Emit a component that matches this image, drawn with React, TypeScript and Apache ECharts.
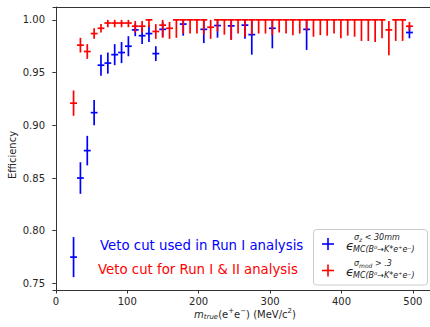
import React, { useEffect, useRef } from "react";
import * as echarts from "echarts";

// Bin centres of m_true(e+e-) in MeV/c^2
const massBins = [
  24.8, 34.4, 44.0, 53.6, 63.2, 72.8, 82.4, 92.0, 101.6, 111.2,
  120.8, 130.4, 140.0, 149.6, 159.2, 168.8, 178.4, 188.0, 197.6, 207.2,
  216.8, 226.4, 236.0, 245.6, 255.2, 264.8, 274.4, 284.0, 293.6, 303.2,
  312.8, 322.4, 332.0, 341.6, 351.2, 360.8, 370.4, 380.0, 389.6, 399.2,
  408.8, 418.4, 428.0, 437.6, 447.2, 456.8, 466.4, 476.0, 485.6, 495.2,
];

// Run I & II veto cut (red)
const runIIEff = [
  0.921, 0.976, 0.970, 0.987, 0.992, 0.997, 0.997, 0.997, 0.997, 0.994,
  0.994, 1.0, 0.989, 0.995, 0.992, 1.0, 1.0, 1.0, 1.0, 1.0,
  0.993, 1.0, 1.0, 1.0, 1.0, 1.0, 1.0, 1.0, 1.0, 1.0,
  1.0, 1.0, 1.0, 1.0, 1.0, 1.0, 1.0, 1.0, 1.0, 1.0,
  1.0, 1.0, 1.0, 1.0, 1.0, 1.0, 0.9905, 1.0, 1.0, 0.994,
];
const runIIErrLo = [
  0.012, 0.007, 0.007, 0.005, 0.004, 0.004, 0.004, 0.004, 0.004, 0.006,
  0.006, 0.007, 0.007, 0.012, 0.010, 0.017, 0.013, 0.013, 0.013, 0.014,
  0.011, 0.011, 0.014, 0.019, 0.013, 0.016, 0.014, 0.013, 0.013, 0.0145,
  0.012, 0.013, 0.0145, 0.013, 0.010, 0.016, 0.0145, 0.015, 0.013, 0.0174,
  0.015, 0.016, 0.020, 0.020, 0.021, 0.0175, 0.024, 0.020, 0.020, 0.004,
];
const runIIErrHi = [
  0.012, 0.007, 0.007, 0.005, 0.004, 0.003, 0.003, 0.003, 0.003, 0.005,
  0.005, 0.0, 0.007, 0.005, 0.006, 0.0, 0.0, 0.0, 0.0, 0.0,
  0.007, 0.0, 0.0, 0.0, 0.0, 0.0, 0.0, 0.0, 0.0, 0.0,
  0.0, 0.0, 0.0, 0.0, 0.0, 0.0, 0.0, 0.0, 0.0, 0.0,
  0.0, 0.0, 0.0, 0.0, 0.0, 0.0, 0.0085, 0.0, 0.0, 0.004,
];

// Run I veto cut (blue)
const runIMass = [
  24.8, 34.4, 44.0, 53.6, 63.2, 72.8, 82.4, 92.0, 101.6, 111.2,
  120.8, 130.4, 140.0, 149.6, 178.4, 207.2, 226.4, 245.6, 264.8, 274.4,
  303.2, 351.2, 495.2,
];
const runIEff = [
  0.775, 0.850, 0.876, 0.912, 0.957, 0.959, 0.967, 0.969, 0.975, 0.9905,
  0.985, 0.987, 0.968, 0.991, 0.996, 0.991, 0.9946, 0.9943, 0.995, 0.986,
  0.992, 0.991, 0.988,
];
const runIErrLo = [
  0.019, 0.015, 0.014, 0.012, 0.010, 0.010, 0.010, 0.010, 0.0095, 0.006,
  0.008, 0.008, 0.007, 0.007, 0.011, 0.013, 0.0115, 0.013, 0.013, 0.019,
  0.019, 0.0195, 0.0055,
];
const runIErrHi = [
  0.019, 0.015, 0.014, 0.012, 0.010, 0.010, 0.010, 0.010, 0.0095, 0.006,
  0.008, 0.008, 0.007, 0.007, 0.004, 0.009, 0.0054, 0.0057, 0.005, 0.014,
  0.008, 0.009, 0.0055,
];

const binHalfWidth = 4.8;
const xTicks = [0, 100, 200, 300, 400, 500];
const yTicks = [0.75, 0.8, 0.85, 0.9, 0.95, 1.0];

const FONT = "DejaVu Sans";

function errorBarSeries(name: string, color: string, data: number[][]) {
  return {
    type: "custom",
    name,
    data,
    encode: { x: 0, y: 1 },
    clip: false,
    silent: true,
    renderItem: (_params: any, api: any) => {
      const x = api.value(0);
      const y = api.value(1);
      const lo = api.value(2);
      const hi = api.value(3);
      const l = api.coord([x - binHalfWidth, y]);
      const r = api.coord([x + binHalfWidth, y]);
      const t = api.coord([x, y + hi]);
      const b = api.coord([x, y - lo]);
      const style = { stroke: color, lineWidth: 1.7, fill: null };
      return {
        type: "group",
        children: [
          { type: "line", shape: { x1: l[0], y1: l[1], x2: r[0], y2: r[1] }, style },
          { type: "line", shape: { x1: t[0], y1: t[1], x2: b[0], y2: b[1] }, style },
        ],
      };
    },
  };
}

export default function App() {
  const ref = useRef<HTMLDivElement>(null);
  useEffect(() => {
    if (!ref.current) return;
    const chart = echarts.init(ref.current, null, { renderer: "svg" });
    const redData = massBins.map((m, i) => [m, runIIEff[i], runIIErrLo[i], runIIErrHi[i]]);
    const blueData = runIMass.map((m, i) => [m, runIEff[i], runIErrLo[i], runIErrHi[i]]);
    const legendSup = {
      g: { fontFamily: FONT, fontStyle: "italic", fontSize: 8, fill: "#222" },
      z: { fontFamily: FONT, fontStyle: "italic", fontSize: 6, fill: "#222", padding: [4, 0, 0, 0] },
      t: { fontFamily: FONT, fontStyle: "italic", fontSize: 8, fill: "#222" },
    };
    chart.setOption({
      animation: false,
      backgroundColor: "#ffffff",
      grid: {
        left: 53,
        top: 7,
        width: 381,
        bottom: 37,
        show: false,
      },
      xAxis: [
        {
          type: "value",
          min: -4,
          max: 524,
          splitLine: { show: false },
          axisLine: { show: true, lineStyle: { color: "#333", width: 1 } },
          axisTick: { show: true, inside: false, length: 3.5, lineStyle: { color: "#333" }, customValues: xTicks },
          axisLabel: {
            customValues: xTicks,
            margin: 6,
            fontFamily: FONT,
            fontSize: 10,
            color: "#262626",
          },
        },
        {
          type: "value",
          position: "top",
          min: -4,
          max: 524,
          splitLine: { show: false },
          axisLine: { show: true, onZero: false, lineStyle: { color: "#333", width: 1 } },
          axisTick: { show: false },
          axisLabel: { show: false },
        },
      ],
      yAxis: {
        type: "value",
        min: 0.7438,
        max: 1.0122,
        splitLine: { show: false },
        axisLine: { show: true, lineStyle: { color: "#333", width: 1 } },
        axisTick: { show: true, inside: false, length: 3.5, lineStyle: { color: "#333" }, customValues: yTicks },
        axisLabel: {
          customValues: yTicks,
          margin: 8,
          fontFamily: FONT,
          fontSize: 10,
          color: "#262626",
          formatter: (v: number) => v.toFixed(2),
        },
      },
      series: [
        errorBarSeries("Run I", "#0000ff", blueData),
        errorBarSeries("Run I & II", "#ff0000", redData),
      ],
      graphic: [
        {
          type: "text",
          x: 12,
          y: 155,
          rotation: Math.PI / 2,
          style: {
            text: "Efficiency",
            fontFamily: FONT,
            fontSize: 10,
            fill: "#262626",
            align: "center",
            verticalAlign: "middle",
          },
        },
        {
          type: "text",
          x: 245,
          y: 314,
          style: {
            text: "{m|m}{s|true}{n|(e}{p|+}{n|e}{p|−}{n|) (MeV/c}{p|2}{n|)}",
            align: "center",
            verticalAlign: "middle",
            rich: {
              m: { fontFamily: FONT, fontStyle: "italic", fontSize: 10, fill: "#262626" },
              n: { fontFamily: FONT, fontSize: 10, fill: "#262626" },
              s: { fontFamily: FONT, fontStyle: "italic", fontSize: 7, fill: "#262626", padding: [6, 0, 0, 0] },
              p: { fontFamily: FONT, fontSize: 7, fill: "#262626", padding: [0, 0, 6, 0] },
            },
          },
        },
        {
          type: "text",
          x: 100,
          y: 245,
          style: {
            text: "Veto cut used in Run I analysis",
            fontFamily: FONT,
            fontSize: 13.3,
            fill: "#0000ff",
            verticalAlign: "middle",
          },
        },
        {
          type: "text",
          x: 98,
          y: 269,
          style: {
            text: "Veto cut for Run I & II analysis",
            fontFamily: FONT,
            fontSize: 13.3,
            fill: "#ff0000",
            verticalAlign: "middle",
          },
        },
        {
          type: "rect",
          shape: { x: 313.5, y: 229.5, width: 114, height: 55.5, r: 3 },
          style: { fill: "rgba(255,255,255,0.8)", stroke: "#cccccc", lineWidth: 1 },
        },
        { type: "line", shape: { x1: 322, y1: 244, x2: 334, y2: 244 }, style: { stroke: "#0000ff", lineWidth: 1.6 } },
        { type: "line", shape: { x1: 328, y1: 238, x2: 328, y2: 250 }, style: { stroke: "#0000ff", lineWidth: 1.6 } },
        { type: "line", shape: { x1: 322, y1: 270.5, x2: 334, y2: 270.5 }, style: { stroke: "#ff0000", lineWidth: 1.6 } },
        { type: "line", shape: { x1: 328, y1: 264.5, x2: 328, y2: 276.5 }, style: { stroke: "#ff0000", lineWidth: 1.6 } },
        {
          type: "text",
          x: 346,
          y: 245,
          style: { text: "ϵ", fontFamily: FONT, fontStyle: "italic", fontSize: 13, fill: "#222", verticalAlign: "middle" },
        },
        {
          type: "text",
          x: 354,
          y: 237.5,
          style: { text: "{g|σ}{z|z}{t| < 30mm}", verticalAlign: "middle", rich: legendSup },
        },
        {
          type: "text",
          x: 353,
          y: 249,
          style: { text: "MC(B⁰→K*e⁺e⁻)", fontFamily: FONT, fontStyle: "italic", fontSize: 8, fill: "#222", verticalAlign: "middle" },
        },
        {
          type: "text",
          x: 346,
          y: 271,
          style: { text: "ϵ", fontFamily: FONT, fontStyle: "italic", fontSize: 13, fill: "#222", verticalAlign: "middle" },
        },
        {
          type: "text",
          x: 354,
          y: 263.5,
          style: { text: "{g|σ}{z|mod}{t| > .3}", verticalAlign: "middle", rich: legendSup },
        },
        {
          type: "text",
          x: 353,
          y: 275,
          style: { text: "MC(B⁰→K*e⁺e⁻)", fontFamily: FONT, fontStyle: "italic", fontSize: 8, fill: "#222", verticalAlign: "middle" },
        },
      ],
    });
    return () => chart.dispose();
  }, []);
  return <div ref={ref} style={{ position: "fixed", left: 0, top: 0, width: 430, height: 327 }} />;
}
